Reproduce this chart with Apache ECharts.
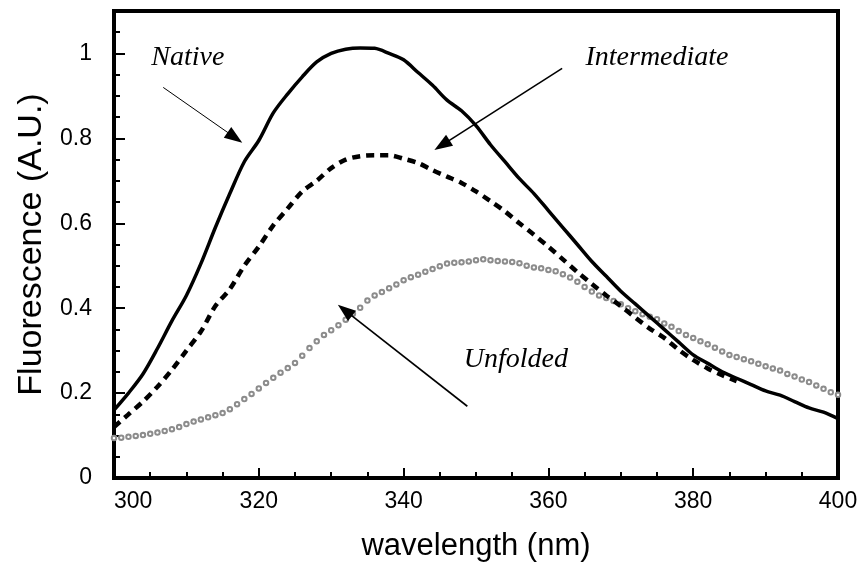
<!DOCTYPE html>
<html><head><meta charset="utf-8">
<script src="https://cdn.jsdelivr.net/npm/echarts@6/dist/echarts.min.js"></script>
<style>html,body{margin:0;padding:0;background:#fff}#c{width:861px;height:571px}</style>
</head><body><div id="c"></div>
<script>
const wavelengths2 = [300,302,304,306,308,310,312,314,316,318,320,322,324,326,328,330,332,334,336,338,340,342,344,346,348,350,352,354,356,358,360,362,364,366,368,370,372,374,376,378,380,382,384,386,388,390,392,394,396,398,400];
const nativeVals = [0.16,0.20,0.245,0.305,0.37,0.43,0.505,0.59,0.67,0.745,0.795,0.86,0.905,0.945,0.98,1.0,1.01,1.013,1.012,1.0,0.985,0.955,0.925,0.89,0.865,0.83,0.785,0.745,0.705,0.67,0.63,0.59,0.55,0.51,0.475,0.44,0.41,0.38,0.35,0.32,0.29,0.27,0.25,0.235,0.22,0.205,0.195,0.18,0.165,0.155,0.14];
const intermediateVals = [0.12,0.15,0.18,0.215,0.255,0.30,0.345,0.405,0.445,0.50,0.545,0.595,0.635,0.675,0.70,0.73,0.75,0.758,0.76,0.76,0.752,0.742,0.725,0.71,0.695,0.675,0.652,0.628,0.60,0.573,0.545,0.515,0.485,0.457,0.43,0.405,0.378,0.352,0.33,0.302,0.278,0.258,0.242,0.228];
const wavelengths1 = [];
for (let w = 300; w <= 400; w++) wavelengths1.push(w);
const unfoldedVals = [0.094,0.095,0.097,0.099,0.101,0.104,0.107,0.111,0.115,0.120,0.127,0.133,0.138,0.143,0.148,0.153,0.162,0.174,0.186,0.198,0.211,0.224,0.236,0.248,0.259,0.271,0.288,0.306,0.322,0.337,0.348,0.36,0.373,0.387,0.401,0.418,0.43,0.438,0.447,0.456,0.466,0.473,0.479,0.486,0.492,0.499,0.505,0.507,0.508,0.51,0.513,0.515,0.513,0.511,0.51,0.509,0.506,0.5,0.496,0.494,0.49,0.487,0.48,0.472,0.462,0.45,0.439,0.43,0.424,0.417,0.409,0.4,0.393,0.386,0.38,0.374,0.364,0.356,0.346,0.337,0.33,0.322,0.315,0.307,0.298,0.29,0.285,0.28,0.275,0.269,0.263,0.258,0.253,0.245,0.239,0.232,0.226,0.218,0.21,0.202,0.196];

const annotations = [
  {text:'Native', at:[310.2,0.991], from:[306.8,0.92], to:[316.7,0.802], w:1},
  {text:'Intermediate', at:[375,0.991], from:[361.9,0.965], to:[345.3,0.784], w:1.6},
  {text:'Unfolded', at:[355.5,0.278], from:[348.8,0.169], to:[331.9,0.395], w:1.6}
];

const zip = (xs, ys) => ys.map((v,i)=>[xs[i], v]);
const chart = echarts.init(document.getElementById('c'), null, {renderer:'canvas'});
const labelFont = {fontFamily:'Liberation Sans, Arial, sans-serif', color:'#000'};
chart.setOption({
  backgroundColor:'#fff',
  animation:false,
  grid:{left:114, right:23, top:11, bottom:93, show:true, borderColor:'#000', borderWidth:4, backgroundColor:'transparent', containLabel:false, outerBoundsMode:'none'},
  xAxis:{type:'value', min:300, max:400, interval:20,
    name:'wavelength (nm)', nameLocation:'middle', nameGap:53,
    nameTextStyle:Object.assign({fontSize:31}, labelFont),
    axisLine:{show:false},
    axisTick:{show:true, inside:true, length:10, lineStyle:{color:'#000', width:2}},
    minorTick:{show:true, splitNumber:4, length:6, lineStyle:{color:'#000', width:2}},
    splitLine:{show:false}, minorSplitLine:{show:false},
    axisLabel:Object.assign({fontSize:23, margin:12, alignMinLabel:'left'}, labelFont)
  },
  yAxis:[
    {type:'value', min:0, max:1.1, interval:0.2,
      name:'Fluorescence (A.U.)', nameLocation:'middle', nameGap:65,
      nameTextStyle:Object.assign({fontSize:34}, labelFont),
      axisLine:{show:false},
      axisTick:{show:true, inside:true, length:11, lineStyle:{color:'#000', width:2}},
      splitLine:{show:false},
      axisLabel:Object.assign({fontSize:23, margin:22, showMaxLabel:false}, labelFont)
    },
    {type:'value', min:0, max:1.1, interval:0.05, position:'left',
      axisLine:{show:false}, axisLabel:{show:false}, splitLine:{show:false},
      axisTick:{show:true, inside:true, length:6, lineStyle:{color:'#000', width:2}}
    }
  ],
  series:[
    {name:'Unfolded', type:'line', data:zip(wavelengths1, unfoldedVals), symbol:'emptyCircle', symbolSize:4.5, showSymbol:true,
      itemStyle:{color:'#8c8c8c', borderWidth:1.3, borderColor:'#8c8c8c'}, lineStyle:{width:0, opacity:0}, z:2,
      markLine:{silent:true, symbol:['none','triangle'], symbolSize:[13,18], label:{show:false}, animation:false,
        data: annotations.map(a => [{coord:a.from, lineStyle:{color:'#000', width:a.w, type:'solid'}}, {coord:a.to}])}
    },
    {name:'Intermediate', type:'line', data:zip(wavelengths2, intermediateVals), showSymbol:false, symbol:'none', smooth:0.3,
      lineStyle:{color:'#000', width:4.5, type:[8,6]}, z:3},
    {name:'Native', type:'line', data:zip(wavelengths2, nativeVals), showSymbol:false, symbol:'none', smooth:0.3,
      lineStyle:{color:'#000', width:3.5}, z:4}
  ]
});
chart.setOption({
  graphic: annotations.map(a => {
    const p = chart.convertToPixel({gridIndex:0}, a.at);
    return {type:'text', x:p[0], y:p[1], style:{text:a.text, font:'italic 28px "Liberation Serif", "Times New Roman", serif', fill:'#000', textAlign:'center', textVerticalAlign:'middle'}};
  })
});
</script></body></html>
